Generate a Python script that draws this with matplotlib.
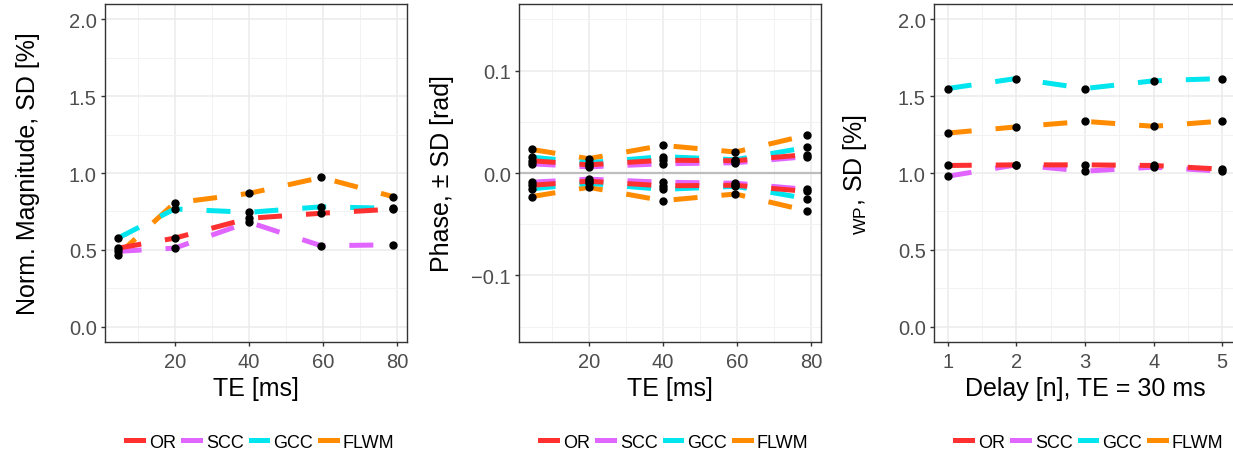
import matplotlib
matplotlib.use("Agg")
import matplotlib.pyplot as plt
from matplotlib.lines import Line2D

plt.rcParams['font.family'] = ['Liberation Sans', 'DejaVu Sans']
plt.rcParams['mathtext.fontset'] = 'custom'
plt.rcParams['mathtext.rm'] = 'Liberation Sans'

# data
methods = ['OR', 'SCC', 'GCC', 'FLWM']
colors = {'OR': '#FF3030', 'SCC': '#E066FF', 'GCC': '#00E5EE', 'FLWM': '#FF8C00'}

te = [4.6, 20, 40, 59.6, 79]
mag_or = [0.51, 0.576, 0.705, 0.738, 0.765]
mag_scc = [0.49, 0.511, 0.68, 0.526, 0.533]
mag_gcc = [0.575, 0.766, 0.744, 0.78, 0.77]
mag_flwm = [0.466, 0.805, 0.867, 0.971, 0.846]

ph_or = [0.012, 0.008, 0.0125, 0.012, 0.018]
ph_scc = [0.009, 0.006, 0.009, 0.010, 0.016]
ph_gcc = [0.0155, 0.010, 0.016, 0.013, 0.025]
ph_flwm = [0.023, 0.014, 0.027, 0.0205, 0.037]

delay = [1, 2, 3, 4, 5]
wp_or = [1.049, 1.053, 1.053, 1.049, 1.025]
wp_scc = [0.979, 1.053, 1.012, 1.038, 1.012]
wp_gcc = [1.55, 1.615, 1.55, 1.60, 1.615]
wp_flwm = [1.26, 1.30, 1.336, 1.304, 1.338]

mag = {'OR': mag_or, 'SCC': mag_scc, 'GCC': mag_gcc, 'FLWM': mag_flwm}
ph = {'OR': ph_or, 'SCC': ph_scc, 'GCC': ph_gcc, 'FLWM': ph_flwm}
wp = {'OR': wp_or, 'SCC': wp_scc, 'GCC': wp_gcc, 'FLWM': wp_flwm}

draw_order = ['FLWM', 'GCC', 'SCC', 'OR']
LW = 3.6
DASH = (0, (4.8, 4.8))
TICK_FS = 14.5
TITLE_FS = 18

W, H = 1233, 456
fig = plt.figure(figsize=(W / 100, H / 100), dpi=100)


def make_axes(left_px):
    return fig.add_axes([left_px / W, (H - 343) / H, 302 / W, 338 / H])


def style(ax, xmajor, xminor, ymajor, yminor):
    ax.set_xticks(xmajor)
    ax.set_xticks(xminor, minor=True)
    ax.set_yticks(ymajor)
    ax.set_yticks(yminor, minor=True)
    ax.grid(True, which='major', color='#EBEBEB', linewidth=1.1, zorder=0)
    ax.grid(True, which='minor', color='#F2F2F2', linewidth=0.7, zorder=0)
    ax.set_axisbelow(True)
    for s in ax.spines.values():
        s.set_color('#333333')
        s.set_linewidth(1.0)
    ax.tick_params(which='major', length=3, width=1.0, color='#333333',
                   labelsize=TICK_FS, labelcolor='#4D4D4D', pad=3)
    ax.tick_params(axis='x', which='major', pad=4)
    ax.tick_params(which='minor', length=0)


def legend(ax):
    handles = [Line2D([], [], color=colors[m], lw=LW) for m in methods]
    ax.legend(handles, methods, loc='center', bbox_to_anchor=(0.515, -0.296),
              ncol=4, frameon=False, fontsize=13, handlelength=0.9,
              handletextpad=0.35, columnspacing=0.4)


# panel 1: magnitude
ax1 = make_axes(105)
for m in draw_order:
    ax1.plot(te, mag[m], color=colors[m], lw=LW, linestyle=DASH, zorder=2)
for m in draw_order:
    ax1.plot(te, mag[m], 'o', color='black', ms=5, zorder=3)
ax1.set_xlim(1.2, 82.7)
ax1.set_ylim(-0.1, 2.1)
style(ax1, [20, 40, 60, 80], [10, 30, 50, 70], [0, 0.5, 1, 1.5, 2],
      [0.25, 0.75, 1.25, 1.75])
ax1.set_yticklabels(['0.0', '0.5', '1.0', '1.5', '2.0'])
ax1.set_xlabel('TE [ms]', fontsize=TITLE_FS, labelpad=4)
ax1.set_ylabel('Norm. Magnitude, SD [%]', fontsize=TITLE_FS)
ax1.yaxis.set_label_coords(-0.215, 0.5)
legend(ax1)

# panel 2: phase (+/- SD)
ax2 = make_axes(519)
ax2.axhline(0, color='#BEBEBE', lw=1.6, zorder=1)
for m in draw_order:
    ax2.plot(te, ph[m], color=colors[m], lw=LW, linestyle=DASH, zorder=2)
    ax2.plot(te, [-v for v in ph[m]], color=colors[m], lw=LW, linestyle=DASH, zorder=2)
for m in draw_order:
    ax2.plot(te, ph[m], 'o', color='black', ms=5, zorder=3)
    ax2.plot(te, [-v for v in ph[m]], 'o', color='black', ms=5, zorder=3)
ax2.set_xlim(1.2, 82.7)
ax2.set_ylim(-0.165, 0.165)
style(ax2, [20, 40, 60, 80], [10, 30, 50, 70], [-0.1, 0, 0.1],
      [-0.15, -0.05, 0.05, 0.15])
ax2.set_yticklabels(['\u22120.1', '0.0', '0.1'])
ax2.set_xlabel('TE [ms]', fontsize=TITLE_FS, labelpad=4)
ax2.set_ylabel('Phase, \u00b1 SD [rad]', fontsize=TITLE_FS)
ax2.yaxis.set_label_coords(-0.215, 0.5)
legend(ax2)

# panel 3: delay
ax3 = make_axes(934)
for m in draw_order:
    ax3.plot(delay, wp[m], color=colors[m], lw=LW, linestyle=DASH, zorder=2)
for m in draw_order:
    ax3.plot(delay, wp[m], 'o', color='black', ms=5, zorder=3)
ax3.set_xlim(0.8, 5.2)
ax3.set_ylim(-0.1, 2.1)
style(ax3, [1, 2, 3, 4, 5], [1.5, 2.5, 3.5, 4.5], [0, 0.5, 1, 1.5, 2],
      [0.25, 0.75, 1.25, 1.75])
ax3.set_yticklabels(['0.0', '0.5', '1.0', '1.5', '2.0'])
ax3.set_xlabel('Delay [n], TE = 30 ms', fontsize=TITLE_FS, labelpad=4)
ax3.set_ylabel(r'${}_{\mathrm{WP}}$, SD [%]', fontsize=TITLE_FS)
ax3.yaxis.set_label_coords(-0.215, 0.5)
legend(ax3)

fig.savefig('out.png', dpi=100)
